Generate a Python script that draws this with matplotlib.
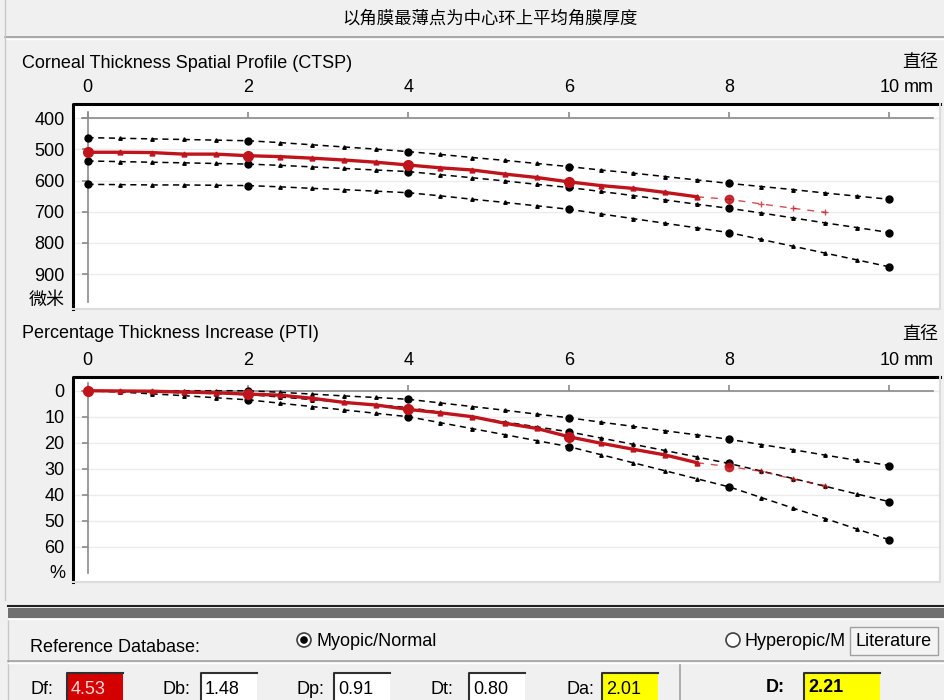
import matplotlib.pyplot as plt
from matplotlib.patches import Rectangle, Circle

plt.rcParams['font.family'] = ['Liberation Sans', 'Noto Sans CJK SC', 'DejaVu Sans']

# radius positions (mm) for the reference curves and the patient curve
radius = [0, 0.4, 0.8, 1.2, 1.6, 2.0, 2.4, 2.8, 3.2, 3.6, 4.0, 4.4, 4.8,
          5.2, 5.6, 6.0, 6.4, 6.8, 7.2, 7.6, 8.0, 8.4, 8.8, 9.2, 9.6, 10.0]

# CTSP (microns)
ctsp_upper = [462, 464, 466, 468, 470, 472, 478, 485, 492, 499, 507, 516, 526,
              535, 545, 555, 566, 576, 587, 598, 609, 619, 629, 640, 650, 660]
ctsp_mean = [537, 539, 541, 543, 545, 547, 551, 556, 561, 566, 571, 581, 591,
             601, 612, 622, 635, 648, 662, 676, 689, 704, 720, 736, 751, 767]
ctsp_lower = [612, 613, 614, 614, 615, 616, 620, 625, 629, 634, 639, 649, 660,
              670, 681, 692, 707, 722, 737, 752, 767, 789, 811, 833, 855, 877]
ctsp_patient = [509, 509, 510, 515, 515, 520, 523, 528, 534, 541, 550, 559, 566,
                579, 590, 604, 616, 625, 638, 652, 660, 675, 689, 702]

# PTI (%)
pti_upper = [0, 0, 0, 0, 0, 0, 0.6, 1.3, 2.0, 2.6, 3.3, 4.7, 6.1,
             7.5, 9.0, 10.4, 12.1, 13.7, 15.4, 17.0, 18.7, 20.7, 22.7, 24.8, 26.8, 28.8]
pti_mean = [0, 0.2, 0.5, 0.8, 1.1, 1.5, 2.4, 3.4, 4.4, 5.4, 6.5, 8.3, 10.1,
            12.0, 13.9, 15.8, 18.2, 20.6, 23.0, 25.5, 28.0, 30.9, 33.8, 36.8, 39.8, 42.7]
pti_lower = [0, 0.5, 1.2, 1.9, 2.7, 3.5, 4.8, 6.1, 7.4, 8.7, 10.0, 12.3, 14.6,
             16.9, 19.2, 21.5, 24.6, 27.7, 30.8, 33.9, 37.0, 41.1, 45.2, 49.2, 53.3, 57.4]
pti_patient = [0, 0.1, 0.2, 0.5, 0.8, 1.3, 1.7, 2.9, 4.5, 5.5, 7.2, 8.5, 10.0,
               12.5, 14.5, 17.7, 20.2, 22.5, 24.7, 27.7, 29.2, 31.0, 34.0, 36.5]

x_ticks = [0, 2, 4, 6, 8, 10]
x_labels = ['0', '2', '4', '6', '8', '10']
ctsp_ticks = [400, 500, 600, 700, 800, 900]
pti_ticks = [0, 10, 20, 30, 40, 50, 60]

indices = ['Df:', 'Db:', 'Dp:', 'Dt:', 'Da:']
index_values = ['4.53', '1.48', '0.91', '0.80', '2.01']
final_d = '2.21'

W, H = 945, 700
BG = '#f0f0f0'
RED = '#c0141c'
FS = 13

fig = plt.figure(figsize=(W / 100, H / 100), dpi=100, facecolor=BG)

# overlay in pixel coordinates for the window decorations
bg = fig.add_axes([0, 0, 1, 1], zorder=0)
bg.set_xlim(0, W)
bg.set_ylim(H, 0)
bg.axis('off')

bg.text(490, 18, '以角膜最薄点为中心环上平均角膜厚度', ha='center', va='center', fontsize=12.5)
bg.plot([5, W], [37, 37], color='#9a9a9a', lw=1.2)
bg.plot([5, W], [39, 39], color='white', lw=1)
bg.plot([5, 5], [0, 600], color='#c8c8c8', lw=1)
bg.plot([8, 8], [620, 700], color='#c8c8c8', lw=1)

bg.text(22, 63, 'Corneal Thickness Spatial Profile (CTSP)', ha='left', va='center', fontsize=FS)
bg.text(938, 63, '直径', ha='right', va='center', fontsize=FS)
bg.text(22, 334, 'Percentage Thickness Increase (PTI)', ha='left', va='center', fontsize=FS)
bg.text(938, 334, '直径', ha='right', va='center', fontsize=FS)

# separator bar
bg.plot([8, W], [606, 606], color='#202020', lw=1.5)
bg.add_patch(Rectangle((8, 607.5), W - 8, 10, facecolor='#707070', edgecolor='none'))
bg.plot([8, W], [619, 619], color='white', lw=1)

bg.text(30, 647, 'Reference Database:', ha='left', va='center', fontsize=FS)
bg.add_patch(Circle((304, 640), 7, facecolor='white', edgecolor='#404040', lw=1.2))
bg.add_patch(Circle((304, 640), 3.8, facecolor='black', edgecolor='none'))
bg.text(317, 641, 'Myopic/Normal', ha='left', va='center', fontsize=FS)
bg.add_patch(Circle((733, 640), 7, facecolor='white', edgecolor='#404040', lw=1.2))
bg.text(745, 641, 'Hyperopic/M', ha='left', va='center', fontsize=FS)
bg.add_patch(Rectangle((850, 627), 88, 28, facecolor='#f4f4f4', edgecolor='#a0a0a0', lw=1))
bg.text(894, 641, 'Literature', ha='center', va='center', fontsize=FS)

bg.plot([8, W], [661, 661], color='#a0a0a0', lw=1.2)
bg.plot([8, W], [663, 663], color='white', lw=1)
bg.plot([680, 680], [665, H], color='#a0a0a0', lw=1.2)

label_x = [30, 163, 296, 431, 566]
box_x = [67, 201, 334, 469, 602]
box_fill = ['#d40000', 'white', 'white', 'white', '#ffff00']
text_col = ['#f6d8d8', 'black', 'black', 'black', 'black']
for name, val, lx, bx, fc, tc in zip(indices, index_values, label_x, box_x, box_fill, text_col):
    bg.text(lx, 689, name, ha='left', va='center', fontsize=FS)
    bg.add_patch(Rectangle((bx, 673), 56, 30, facecolor=fc, edgecolor='none'))
    bg.plot([bx, bx, bx + 56], [H, 673, 673], color='#303030', lw=1.5)
    bg.text(bx + 4, 689, val, ha='left', va='center', fontsize=FS, color=tc)

bg.text(766, 688, 'D:', ha='left', va='center', fontsize=FS, fontweight='bold')
bg.add_patch(Rectangle((804, 673), 76, 30, facecolor='#ffff00', edgecolor='none'))
bg.plot([804, 804, 880], [H, 673, 673], color='#303030', lw=1.5)
bg.text(808, 688, final_d, ha='left', va='center', fontsize=FS, fontweight='bold')


def chart_axes(top, bottom, ylim, axis_y, vbounds, ticks, unit, unit_y, label_y):
    left, right = 73, 940
    ax = fig.add_axes([left / W, 1 - bottom / H, (right - left) / W, (bottom - top) / H], zorder=2)
    ax.set_facecolor('white')
    ax.set_xlim(-0.181, 10.63)
    ax.set_ylim(*ylim)

    for side in ['bottom', 'right']:
        ax.spines[side].set_visible(False)
    ax.spines['top'].set_position(('data', axis_y))
    ax.spines['left'].set_position(('data', 0))
    ax.spines['top'].set_bounds(-0.07, 10.54)
    ax.spines['left'].set_bounds(*vbounds)
    for side in ['top', 'left']:
        ax.spines[side].set_color('#8a8a8a')
        ax.spines[side].set_linewidth(1.2)

    ax.xaxis.tick_top()
    ax.set_xticks(x_ticks, x_labels)
    ax.set_yticks(ticks)
    ax.tick_params(axis='x', direction='out', length=4.5, width=1.2, color='#8a8a8a',
                   pad=11.5, labelsize=FS)
    ax.tick_params(axis='y', direction='out', length=4.5, width=1.2, color='#8a8a8a',
                   pad=12, labelsize=FS)
    ax.yaxis.grid(True, color='#ececec', lw=1)
    ax.set_axisbelow(True)

    # sunken frame
    ax.plot([0, 0, 1], [0, 1, 1], transform=ax.transAxes, color='black', lw=2.2,
            clip_on=False, zorder=5)
    ax.plot([0, 1, 1], [0, 0, 1], transform=ax.transAxes, color='#dcdcdc', lw=1.5,
            clip_on=False, zorder=5)

    bg.text(904, label_y, 'mm', ha='left', va='baseline', fontsize=FS)
    bg.text(65, unit_y, unit, ha='right', va='center', fontsize=FS)
    return ax


def draw_curves(ax, upper, mean, lower, patient):
    for ref in [upper, mean, lower]:
        ax.plot(radius, ref, color='black', lw=1.1, ls=(0, (4, 3)),
                marker='^', ms=2.5, zorder=3)
        ax.plot(radius, ref, ls='none', color='black', marker='o', ms=5,
                markevery=5, zorder=4)
    solid = 20
    ax.plot(radius[:solid], patient[:solid], color=RED, lw=2.4, marker='^', ms=3.5, zorder=6)
    ax.plot(radius[:solid], patient[:solid], ls='none', color=RED, marker='o', ms=7,
            markevery=5, zorder=6)
    ax.plot(radius[solid - 1:len(patient)], patient[solid - 1:], color=RED, lw=1,
            ls=(0, (5, 5)), marker='+', ms=4, alpha=0.75, zorder=6)
    ax.plot(radius[solid:solid + 1], patient[solid:solid + 1], ls='none', color=RED,
            marker='o', ms=6, alpha=0.85, zorder=6)


ax1 = chart_axes(104, 309, (1012.4, 354), 400, (380, 990), ctsp_ticks, '微米', 300, 92.5)
draw_curves(ax1, ctsp_upper, ctsp_mean, ctsp_lower, ctsp_patient)

ax2 = chart_axes(376.7, 581.7, (73.5, -5.4), 0, (-3, 70.1), pti_ticks, '%', 574, 365)
draw_curves(ax2, pti_upper, pti_mean, pti_lower, pti_patient)

fig.savefig('out.png', dpi=100, facecolor=BG)
